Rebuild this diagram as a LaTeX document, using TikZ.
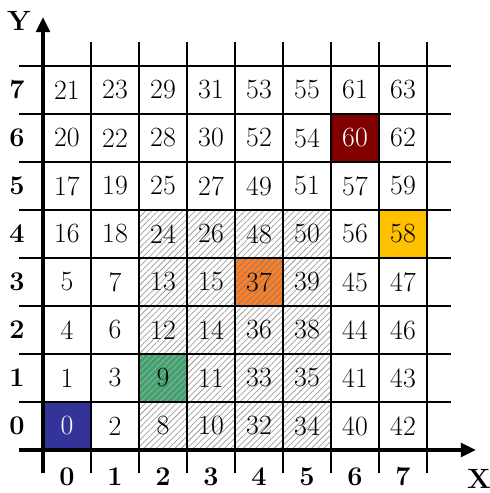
\documentclass[tikz,border=0pt]{standalone}
\usepackage{fontspec}
\usetikzlibrary{patterns.meta,arrows.meta}
\definecolor{cblue}{RGB}{51,51,153}
\definecolor{cred}{RGB}{128,0,0}
\definecolor{cyel}{RGB}{255,192,0}
\definecolor{corange}{RGB}{255,125,35}
\definecolor{cgreen}{RGB}{60,165,110}
\begin{document}
\begin{tikzpicture}[
  hatch/.style={pattern={Lines[angle=45,distance=2.6pt,line width=0.45pt]},pattern color=gray!75},
  cellnum/.style={font=\fontsize{16.5}{18}\selectfont,inner sep=0pt},
  axlab/.style={font=\fontsize{16}{18}\selectfont\bfseries,inner sep=0pt},
  grid line/.style={line width=1.7pt},
  axis line/.style={line width=2.4pt,-{Triangle[length=9pt,width=8pt]}}
]
\useasboundingbox (-0.8958,-0.8958) rectangle (9.2917,9.375);
% hatched region
\foreach \c in {2,...,5}{\foreach \r in {0,...,4}{
  \path[hatch] (\c,\r) rectangle ++(1,1);}}
% coloured cells
\fill[cblue] (0,0) rectangle (1,1);
\fill[cred] (6,6) rectangle (7,7);
\fill[cyel] (7,4) rectangle (8,5);
\fill[corange] (4,3) rectangle (5,4);
\path[hatch,pattern color=black!50] (4,3) rectangle (5,4);
\fill[cgreen] (2,1) rectangle (3,2);
\path[hatch,pattern color=black!35] (2,1) rectangle (3,2);
% grid
\foreach \i in {1,...,8}{\draw[grid line] (\i,-0.48) -- (\i,8.5);}
\foreach \j in {1,...,8}{\draw[grid line] (-0.5,\j) -- (8.5,\j);}
% axes
\coordinate (yo) at (0,-0.48);
\coordinate (yt) at (0,9.02);
\coordinate (xo) at (-0.5,0);
\coordinate (xt) at (9.02,0);
\draw[axis line] (yo) -- (yt);
\draw[axis line] (xo) -- (xt);
\node[axlab] (ylab) at (-0.5,8.93) {\fontsize{16.5}{18}\selectfont Y};
\node[axlab] (xlab) at (9.08,-0.6) {\fontsize{16.5}{18}\selectfont X};
\foreach \k in {0,...,7}{
  \node[axlab] (r\k) at (-0.54,\k+0.5) {\k};
  \node[axlab] (c\k) at (\k+0.5,-0.56) {\k};
}
% numbers
\foreach \r/\lst in {0/{0,2,8,10,32,34,40,42},1/{1,3,9,11,33,35,41,43},2/{4,6,12,14,36,38,44,46},3/{5,7,13,15,37,39,45,47},4/{16,18,24,26,48,50,56,58},5/{17,19,25,27,49,51,57,59},6/{20,22,28,30,52,54,60,62},7/{21,23,29,31,53,55,61,63}}{
  \foreach \v [count=\c from 0] in \lst {
    \ifnum\v=0 \def\tc{white}\else\ifnum\v=60 \def\tc{white}\else\def\tc{black}\fi\fi
    \node[cellnum,text=\tc] (n\v) at (\c+0.5,\r+0.5) {\v};
  }
}
\end{tikzpicture}
\end{document}
